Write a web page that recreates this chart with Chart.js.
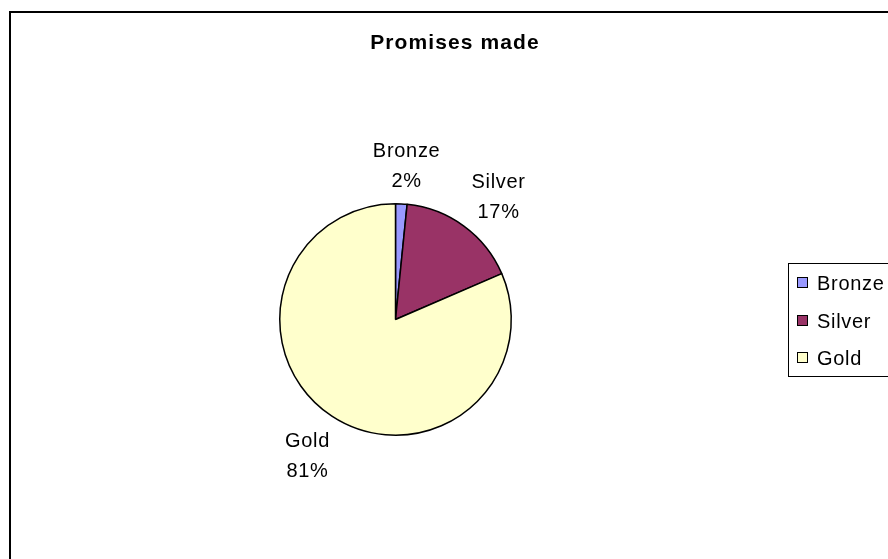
<!DOCTYPE html>
<html>
<head>
<meta charset="utf-8">
<script src="https://cdn.jsdelivr.net/npm/chart.js@4.4.1/dist/chart.umd.min.js"></script>
<style>
  html, body { margin: 0; padding: 0; background: #fff; overflow: hidden; }
  #frame { position: absolute; left: 9px; top: 11px; width: 1000px; height: 1000px; border: 2px solid #000; }
  #chart { position: absolute; left: 0; top: 0; }
</style>
</head>
<body>
<div id="frame"></div>
<canvas id="chart" width="888" height="559"></canvas>
<script>
const titleText = 'Promises made';
const medals = ['Bronze', 'Silver', 'Gold'];
const shares = [1.6, 16.9, 81.4];
const sliceColors = ['#9999FF', '#993366', '#FFFFCC'];

const FONT = '"Liberation Sans", Arial, sans-serif';

function setSpacing(ctx, px) {
  if ('letterSpacing' in ctx) ctx.letterSpacing = px + 'px';
}

// title, outside labels and boxed legend, Excel style
const excelDecor = {
  id: 'excelDecor',
  afterDraw(chart) {
    const ctx = chart.ctx;
    const meta = chart.getDatasetMeta(0);
    const data = chart.data.datasets[0].data;
    const total = data.reduce((s, v) => s + v, 0);

    ctx.save();
    ctx.fillStyle = '#000';
    ctx.textAlign = 'center';
    ctx.textBaseline = 'middle';

    // title
    ctx.font = 'bold 21px ' + FONT;
    setSpacing(ctx, 1.1);
    ctx.fillText(titleText, 455, 43);

    // data labels
    ctx.font = '20px ' + FONT;
    setSpacing(ctx, 0.7);
    const lineGap = 30;
    meta.data.forEach((arc, i) => {
      const p = arc.getProps(['x', 'y', 'startAngle', 'endAngle', 'outerRadius'], true);
      const mid = (p.startAngle + p.endAngle) / 2;
      const dx = Math.cos(mid), dy = Math.sin(mid);
      const pct = Math.round(data[i] / total * 100) + '%';
      const w = Math.max(ctx.measureText(chart.data.labels[i]).width, ctx.measureText(pct).width);
      const h = lineGap * 2;
      const d = p.outerRadius + 12;
      const cx = p.x + dx * d + Math.sign(dx) * Math.min(1, Math.abs(dx) * 1.6) * w / 2 + 2;
      const cy = p.y + dy * d + dy * h / 2 + 5;
      ctx.fillText(chart.data.labels[i], cx, cy - lineGap / 2);
      ctx.fillText(pct, cx, cy + lineGap / 2);
    });

    // legend
    ctx.lineWidth = 1;
    ctx.strokeStyle = '#000';
    ctx.strokeRect(788.5, 263.5, 200, 113);
    ctx.textAlign = 'left';
    const rows = [283, 321, 358];
    chart.data.labels.forEach((lab, i) => {
      ctx.fillStyle = chart.data.datasets[0].backgroundColor[i];
      ctx.fillRect(797, rows[i] - 6, 11, 11);
      ctx.strokeRect(797.5, rows[i] - 5.5, 10, 10);
      ctx.fillStyle = '#000';
      ctx.fillText(lab, 817, rows[i] + 1);
    });
    ctx.restore();
  }
};

new Chart(document.getElementById('chart'), {
  type: 'pie',
  data: {
    labels: medals,
    datasets: [{
      data: shares,
      backgroundColor: sliceColors,
      borderColor: '#000',
      borderWidth: 1.5
    }]
  },
  options: {
    responsive: false,
    animation: false,
    layout: { padding: { left: 279, right: 376, top: 203, bottom: 123 } },
    plugins: {
      legend: { display: false },
      title: { display: false },
      tooltip: { enabled: false }
    }
  },
  plugins: [excelDecor]
});
</script>
</body>
</html>
